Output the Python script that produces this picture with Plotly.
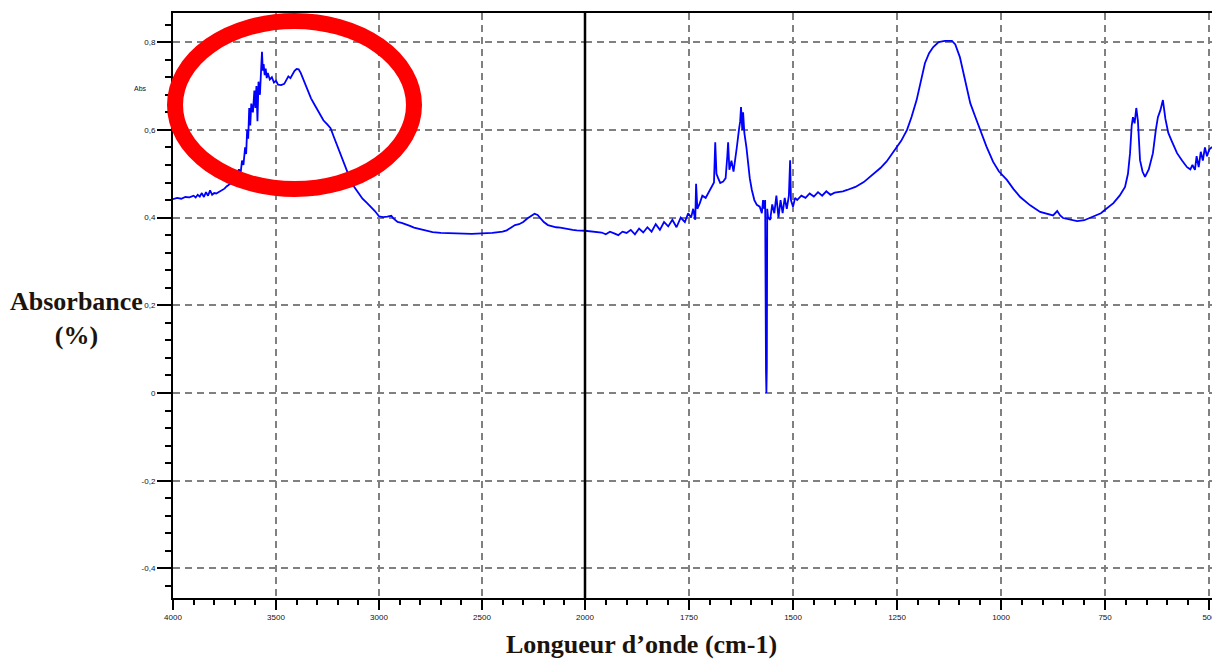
import plotly.graph_objects as go

# ---------------- data ----------------
wn_high = [4000, 3980, 3960, 3940, 3920, 3900, 3890, 3880, 3870, 3860, 3850, 3840, 3830, 3820, 3810,
           3800, 3790, 3770, 3750, 3740, 3720, 3700, 3690, 3680, 3672, 3665, 3658, 3650, 3645, 3640,
           3635, 3630, 3625, 3620, 3612, 3605, 3600, 3595, 3590, 3585, 3578, 3572, 3568, 3564, 3560,
           3555, 3550, 3545, 3540, 3530, 3520, 3510, 3500, 3490, 3475, 3460, 3450, 3440, 3430, 3420,
           3410, 3400, 3390, 3380, 3370, 3360, 3345, 3330, 3310, 3290, 3270, 3250, 3235, 3220, 3200,
           3180, 3160, 3140, 3120, 3100, 3080, 3060, 3040, 3020, 3000, 2980, 2960, 2940, 2930, 2910,
           2890, 2870, 2850, 2830, 2800, 2770, 2740, 2700, 2650, 2600, 2550, 2500, 2450, 2400, 2380,
           2360, 2340, 2320, 2300, 2280, 2260, 2245, 2230, 2215, 2200, 2180, 2160, 2140, 2120, 2100,
           2080, 2060, 2040, 2020, 2000]
abs_high = [0.442, 0.445, 0.443, 0.447, 0.446, 0.450, 0.446, 0.452, 0.448, 0.456, 0.447, 0.458, 0.450, 0.462, 0.452,
            0.456, 0.455, 0.460, 0.466, 0.471, 0.478, 0.490, 0.498, 0.510, 0.500, 0.530, 0.520, 0.560, 0.545, 0.600,
            0.580, 0.650, 0.610, 0.660, 0.640, 0.690, 0.650, 0.700, 0.620, 0.710, 0.680, 0.740, 0.778, 0.735, 0.750,
            0.725, 0.740, 0.718, 0.730, 0.715, 0.720, 0.708, 0.712, 0.703, 0.702, 0.705, 0.712, 0.722, 0.718, 0.728,
            0.735, 0.739, 0.738, 0.730, 0.718, 0.705, 0.690, 0.672, 0.655, 0.637, 0.622, 0.612, 0.604, 0.585, 0.560,
            0.535, 0.510, 0.488, 0.470, 0.455, 0.443, 0.434, 0.425, 0.415, 0.403, 0.401, 0.402, 0.404, 0.398, 0.390,
            0.388, 0.385, 0.381, 0.377, 0.374, 0.370, 0.367, 0.365, 0.364, 0.363, 0.363, 0.364, 0.365, 0.368, 0.371,
            0.377, 0.383, 0.385, 0.390, 0.398, 0.405, 0.409, 0.406, 0.398, 0.390, 0.383, 0.380, 0.378, 0.377, 0.375,
            0.373, 0.372, 0.371, 0.370, 0.370]

wn_low = [2000, 1980, 1960, 1950, 1940, 1930, 1920, 1910, 1900, 1890, 1880, 1870, 1860, 1850, 1840,
          1830, 1820, 1810, 1800, 1790, 1780, 1770, 1760, 1752, 1745, 1740, 1735, 1733, 1730, 1724,
          1718, 1710, 1700, 1695, 1690, 1687, 1684, 1680, 1675, 1668, 1662, 1658, 1656, 1653, 1648,
          1643, 1638, 1635, 1630, 1627, 1625, 1622, 1620, 1617, 1612, 1608, 1604, 1599, 1593, 1587,
          1580, 1575, 1572, 1569, 1567, 1565, 1564, 1563, 1562, 1560, 1555, 1550, 1545, 1540, 1535,
          1530, 1525, 1520, 1515, 1510, 1507, 1505, 1500, 1495, 1490, 1480, 1470, 1460, 1450, 1440,
          1430, 1420, 1410, 1400, 1390, 1380, 1370, 1350, 1330, 1310, 1290, 1275, 1260, 1240, 1226,
          1215, 1203, 1193, 1183, 1173, 1163, 1150, 1135, 1118, 1110, 1099, 1087, 1074, 1062, 1050,
          1035, 1019, 1005, 986, 970, 954, 930, 906, 890, 875, 865, 858, 851, 835, 817,
          800, 785, 775, 769, 760, 750, 740, 730, 715, 702, 695, 690, 686, 683, 679,
          675, 671, 666, 660, 654, 645, 635, 628, 623, 617, 611, 605, 598, 590, 577,
          565, 553, 545, 540, 534, 530, 525, 520, 515, 510, 505, 500, 493]
abs_low = [0.370, 0.368, 0.366, 0.362, 0.368, 0.364, 0.360, 0.368, 0.365, 0.372, 0.362, 0.375, 0.366, 0.378, 0.368,
           0.385, 0.372, 0.390, 0.380, 0.395, 0.378, 0.400, 0.390, 0.410, 0.400, 0.420, 0.395, 0.477, 0.420, 0.433,
           0.450, 0.445, 0.463, 0.470, 0.480, 0.572, 0.500, 0.490, 0.479, 0.482, 0.490, 0.540, 0.572, 0.509, 0.530,
           0.505, 0.550, 0.561, 0.600, 0.620, 0.652, 0.600, 0.640, 0.593, 0.560, 0.525, 0.490, 0.463, 0.440, 0.429,
           0.425, 0.410, 0.440, 0.420, 0.440, 0.050, 0.000, 0.060, 0.420, 0.400, 0.395, 0.430, 0.410, 0.450, 0.400,
           0.440, 0.410, 0.445, 0.420, 0.450, 0.531, 0.440, 0.425, 0.445, 0.440, 0.450, 0.445, 0.455, 0.448, 0.458,
           0.450, 0.460, 0.452, 0.457, 0.458, 0.460, 0.463, 0.470, 0.481, 0.496, 0.513, 0.528, 0.547, 0.575, 0.600,
           0.630, 0.668, 0.710, 0.752, 0.775, 0.789, 0.800, 0.803, 0.803, 0.795, 0.766, 0.715, 0.661, 0.630, 0.600,
           0.562, 0.527, 0.505, 0.486, 0.465, 0.447, 0.428, 0.413, 0.408, 0.405, 0.415, 0.405, 0.399, 0.395, 0.392,
           0.394, 0.400, 0.405, 0.408, 0.410, 0.418, 0.425, 0.433, 0.450, 0.470, 0.500, 0.547, 0.610, 0.629, 0.615,
           0.650, 0.620, 0.531, 0.505, 0.493, 0.510, 0.547, 0.600, 0.629, 0.645, 0.668, 0.625, 0.593, 0.575, 0.547,
           0.530, 0.515, 0.510, 0.520, 0.509, 0.540, 0.515, 0.550, 0.530, 0.560, 0.540, 0.555, 0.561]

x_high_ticks = [4000, 3500, 3000, 2500, 2000]
x_high_labels = ["4000", "3500", "3000", "2500", "2000"]
x_low_ticks = [1750, 1500, 1250, 1000, 750, 500]
x_low_labels = ["1750", "1500", "1250", "1000", "750", "500"]
y_ticks = [0.8, 0.6, 0.4, 0.2, 0, -0.2, -0.4]
y_labels = ["0,8", "0,6", "0,4", "0,2", "0", "-0,2", "-0,4"]

# ---------------- figure ----------------
W, H = 1212, 659
ML, MR, MT, MB = 173, 0, 13, 61
PW, PH = W - ML - MR, H - MT - MB
split = (585 - ML) / PW

def px(x):
    return (x - ML) / PW

def py(y):
    return (H - MB - y) / PH

line_style = dict(color="#0000ff", width=1.8)
fig = go.Figure()
fig.add_trace(go.Scatter(x=wn_high, y=abs_high, mode="lines", line=line_style,
                         xaxis="x", yaxis="y", showlegend=False, hoverinfo="skip"))
fig.add_trace(go.Scatter(x=wn_low, y=abs_low, mode="lines", line=line_style,
                         xaxis="x2", yaxis="y", showlegend=False, hoverinfo="skip"))

tickfont = dict(family="Liberation Sans", size=8, color="#111111")
grid = dict(showgrid=True, gridcolor="#808080", gridwidth=1.8, griddash="7px,5px")

common_x = dict(showline=True, linecolor="black", linewidth=2, mirror=True,
                ticks="outside", ticklen=10, tickwidth=2, tickcolor="black",
                tickfont=tickfont, zeroline=False, automargin=False,
                ticklabeloverflow="allow", **grid)

fig.update_layout(
    width=W, height=H,
    margin=dict(l=ML, r=MR, t=MT, b=MB),
    paper_bgcolor="white", plot_bgcolor="white",
    xaxis=dict(domain=[0, split], range=[4000, 2000], anchor="y",
               tickmode="array", tickvals=x_high_ticks, ticktext=x_high_labels,
               minor=dict(tickmode="linear", tick0=0, dtick=100, ticks="outside",
                          ticklen=5, tickwidth=1.5, tickcolor="black", showgrid=False),
               **common_x),
    xaxis2=dict(domain=[split, 1], range=[2000, 493], anchor="y",
                tickmode="array", tickvals=x_low_ticks, ticktext=x_low_labels,
                minor=dict(tickmode="linear", tick0=0, dtick=50, ticks="outside",
                           ticklen=5, tickwidth=1.5, tickcolor="black", showgrid=False),
                **common_x),
    yaxis=dict(range=[-0.4675, 0.8666], anchor="x",
               tickmode="array", tickvals=y_ticks, ticktext=y_labels,
               showline=True, linecolor="black", linewidth=2,
               ticks="outside", ticklen=14, tickwidth=2, tickcolor="black",
               minor=dict(tickmode="linear", tick0=0, dtick=0.04, ticks="outside",
                          ticklen=6, tickwidth=1.5, tickcolor="black", showgrid=False),
               tickfont=tickfont, zeroline=False, automargin=False, **grid),
)

# axis break line at 2000 cm-1 (boundary between the two x scales)
fig.add_shape(type="line", xref="paper", yref="paper", x0=split, x1=split, y0=0, y1=1,
              line=dict(color="black", width=2.5))

# red ellipse highlight
fig.add_shape(type="circle", xref="paper", yref="paper",
              x0=px(175), x1=px(414), y0=py(189), y1=py(21),
              line=dict(color="#ff0000", width=16))

title_font = dict(family="Liberation Serif", size=26, color="#1c140c")
fig.add_annotation(text="<b>Longueur d’onde (cm-1)</b>", xref="paper", yref="paper",
                   x=px(641), y=py(644), xanchor="center", yanchor="middle",
                   showarrow=False, font=title_font)
fig.add_annotation(text="<b>Absorbance</b><br><b>(%)</b>", xref="paper", yref="paper",
                   x=px(76), y=py(319), xanchor="center", yanchor="middle",
                   showarrow=False, font=title_font, align="center")
fig.add_annotation(text="Abs", xref="paper", yref="paper",
                   x=px(140), y=py(88), xanchor="center", yanchor="middle",
                   showarrow=False, font=dict(family="Liberation Sans", size=7, color="#111111"))

fig.write_html("out.html")
